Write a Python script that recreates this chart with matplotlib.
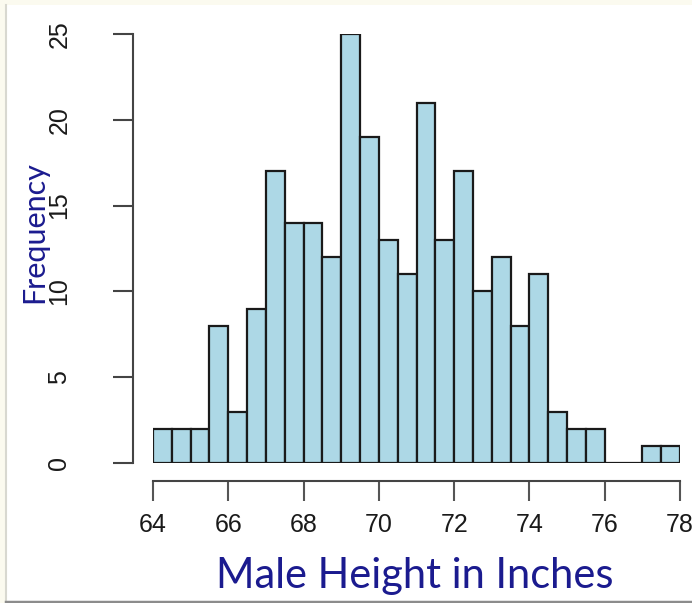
import matplotlib
matplotlib.use("Agg")
import matplotlib.pyplot as plt
from matplotlib.patches import Rectangle
from matplotlib.lines import Line2D
import numpy as np

# Histogram data (bin edges 64..78, width 0.5)
bin_edges = [64 + 0.5 * i for i in range(29)]
counts = [2, 2, 2, 8, 3, 9, 17, 14, 14, 12, 25, 19, 13, 11,
          21, 13, 17, 10, 12, 8, 11, 3, 2, 2, 0, 0, 1, 1]
x_ticks = [64, 66, 68, 70, 72, 74, 76, 78]
y_ticks = [0, 5, 10, 15, 20, 25]
x_label = "Male Height in Inches"
y_label = "Frequency"

W, H = 692, 603
fig = plt.figure(figsize=(W / 100, H / 100), dpi=100)
fig.patch.set_facecolor("#fbfaef")

# white panel
panel = Rectangle((6 / W, 1 - 601 / H), (700 - 6) / W, (601 - 5) / H,
                  transform=fig.transFigure, facecolor="white",
                  edgecolor="none", zorder=-10)
fig.patches.append(panel)
fig.lines.append(Line2D([6 / W, 6 / W], [1 - 601 / H, 1 - 5 / H],
                        transform=fig.transFigure, color="#d8d8d0",
                        linewidth=1.5, zorder=-9))
fig.lines.append(Line2D([6 / W, 1], [1 - 601.5 / H, 1 - 601.5 / H],
                        transform=fig.transFigure, color="#8c8c8c",
                        linewidth=2.5, zorder=-9))

ax = fig.add_axes([153 / W, 1 - 463 / H, (680 - 153) / W, (463 - 34) / H])
ax.set_facecolor("none")
ax.set_zorder(5)

left_edges = bin_edges[:-1]
widths = np.diff(bin_edges)
ax.bar(left_edges, counts, width=widths, align="edge",
       color="#add8e6", edgecolor="#1a1a1a", linewidth=1.6)

ax.set_xlim(64, 78)
ax.set_ylim(0, 25)

for s in ["top", "right"]:
    ax.spines[s].set_visible(False)
ax.spines["left"].set_position(("outward", 20 * 72 / 100))
ax.spines["bottom"].set_position(("outward", 18 * 72 / 100))
ax.spines["left"].set_bounds(0, 25)
ax.spines["bottom"].set_bounds(64, 78)
for s in ["left", "bottom"]:
    ax.spines[s].set_color("#444444")
    ax.spines[s].set_linewidth(1.5)

ax.set_xticks(x_ticks)
ax.set_yticks(y_ticks)
ax.set_xticklabels([str(t) for t in x_ticks], fontsize=18,
                   family="Liberation Sans", color="#1a1a1a")
ax.set_yticklabels([str(t) for t in y_ticks], fontsize=18, rotation=90,
                   va="center", family="Liberation Sans", color="#1a1a1a")
ax.tick_params(axis="x", length=14.4, width=1.5, color="#555555", pad=9)
ax.tick_params(axis="y", length=14.4, width=1.5, color="#444444", pad=30)

fig.text(415 / W, 1 - 576 / H, x_label, ha="center", va="center",
         fontsize=30, family="Lato", color="#1b1b8f", zorder=6)
fig.text(34 / W, 1 - 232 / H, y_label, ha="center", va="center",
         rotation=90, fontsize=22, family="Lato", color="#1b1b8f", zorder=6)

fig.savefig("out.png", dpi=100, facecolor=fig.get_facecolor())
